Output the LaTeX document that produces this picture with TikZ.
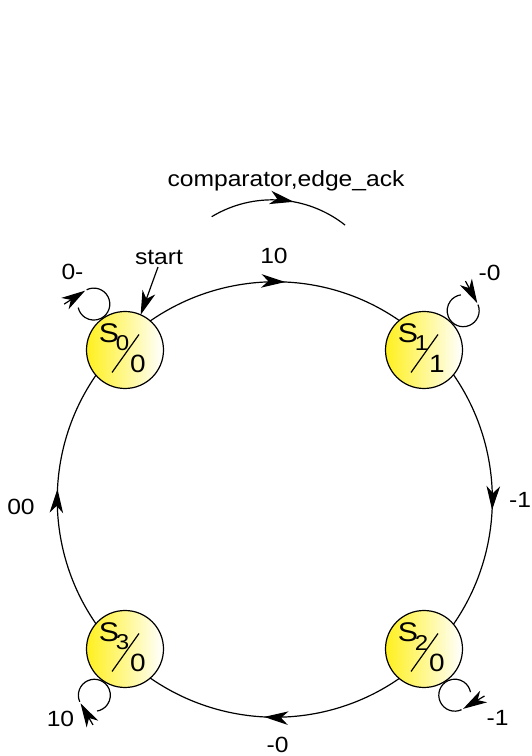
\documentclass[tikz,border=0pt]{standalone}
\usepackage{fontspec}
\setmainfont[FakeStretch=1.12]{Liberation Sans}
\usetikzlibrary{arrows.meta,decorations.markings,calc}

\definecolor{stateyellow}{RGB}{255,240,30}

\tikzset{
  >={Stealth[length=24pt,width=13.5pt,inset=7pt]},
  state/.style={circle, draw, line width=1.2pt, minimum size=77pt,
    inner sep=0pt, outer sep=0pt, left color=stateyellow, right color=white},
  trans/.style={line width=1.2pt, postaction={decorate},
    decoration={markings, mark=at position #1 with {\arrow{>}}}},
  trans/.default=0.54,
  loopline/.style={line width=1.2pt},
  looparrow/.style={line width=1.2pt, ->},
  lbl/.style={font=\fontsize{22}{26}\selectfont, inner sep=0pt},
  bigS/.style={font=\fontsize{27}{31}\selectfont, inner sep=0pt},
  subdigit/.style={font=\fontsize{21.5}{25}\selectfont, inner sep=0pt},
  outdigit/.style={font=\fontsize{25}{29}\selectfont, inner sep=0pt},
  slashline/.style={line width=1.2pt},
}

% state label: S with index, a slash, and the output value
\newcommand\stlab[3]{%
  \node[bigS] (#1-S) at ($(#1)+(-16,17)$) {S};
  \node[subdigit] (#1-i) at ($(#1)+(-2.5,6.5)$) {#2};
  \draw[slashline] ($(#1)+(-13,-22.5)$) -- ($(#1)+(14,15.5)$);
  \node[outdigit] (#1-o) at ($(#1)+(13,-14)$) {#3};
}

% self loop: state, direction of the loop centre, angle of the arrow tip, name
\newcommand\selfloop[4]{%
  \coordinate (#4) at ($(#1)+({#2}:55.5)$);
  \draw[loopline] ($(#4)+({#3-6}:16)$) arc[start angle={#3-6}, end angle={#3-290}, radius=16pt];
  \draw[looparrow] ($(#4)+({#3}:16)+({#3+90}:25)$) -- ($(#4)+({#3}:16)$);
}

\begin{document}
\begin{tikzpicture}[x=1pt,y=1pt]
  \fill[white] (0,0) rectangle (531,756);
  \useasboundingbox (0,0) rectangle (531,756);

  % states
  \node[state] (s0) at (125,406) {};
  \node[state] (s1) at (424,406) {};
  \node[state] (s2) at (424,107) {};
  \node[state] (s3) at (125,107) {};

  \stlab{s0}{0}{0}
  \stlab{s1}{1}{1}
  \stlab{s2}{2}{0}
  \stlab{s3}{3}{0}

  % transitions around the ring
  \draw[trans] (s0.49.56) to[out=34.73, in=145.27, looseness=0.935] (s1.130.44);
  \draw[trans] (s1.-40.44) to[out=-55.27, in=55.27, looseness=0.935] (s2.40.44);
  \draw[trans] (s2.-130.44) to[out=-145.27, in=-34.73, looseness=0.935] (s3.-49.56);
  \draw[trans] (s3.139.56) to[out=124.73, in=-124.73, looseness=0.935] (s0.-139.56);

  \node[lbl] (l01) at (274,500) {10};
  \node[lbl] (l12) at (520,256) {-1};
  \node[lbl] (l23) at (277.5,11.5) {-0};
  \node[lbl] (l30) at (21,249) {00};

  % self loops
  \selfloop{s0}{124.2}{122.7}{c0}
  \selfloop{s1}{45.1}{28.2}{c1}
  \selfloop{s2}{-56.3}{-59}{c2}
  \selfloop{s3}{236.5}{210}{c3}

  \node[lbl] (l00) at (72.5,484) {0-};
  \node[lbl] (l11) at (489.5,483.5) {-0};
  \node[lbl] (l22) at (497.5,38.5) {-1};
  \node[lbl] (l33) at (60.5,37.5) {10};

  % initial state marker
  \node[lbl] (startlbl) at (159,498.5) {start};
  \coordinate (st) at (158,489);
  \draw[looparrow] (st) -- (s0.66);

  % input order legend
  \node[lbl, anchor=base] (legend) at (286,569.3) {comparator,edge\_ack};
  \coordinate (legA) at (211.7,539.3);
  \draw[trans=0.6] (legA) arc[start angle=121.1, end angle=51.7, radius=117.4pt];
\end{tikzpicture}
\end{document}
